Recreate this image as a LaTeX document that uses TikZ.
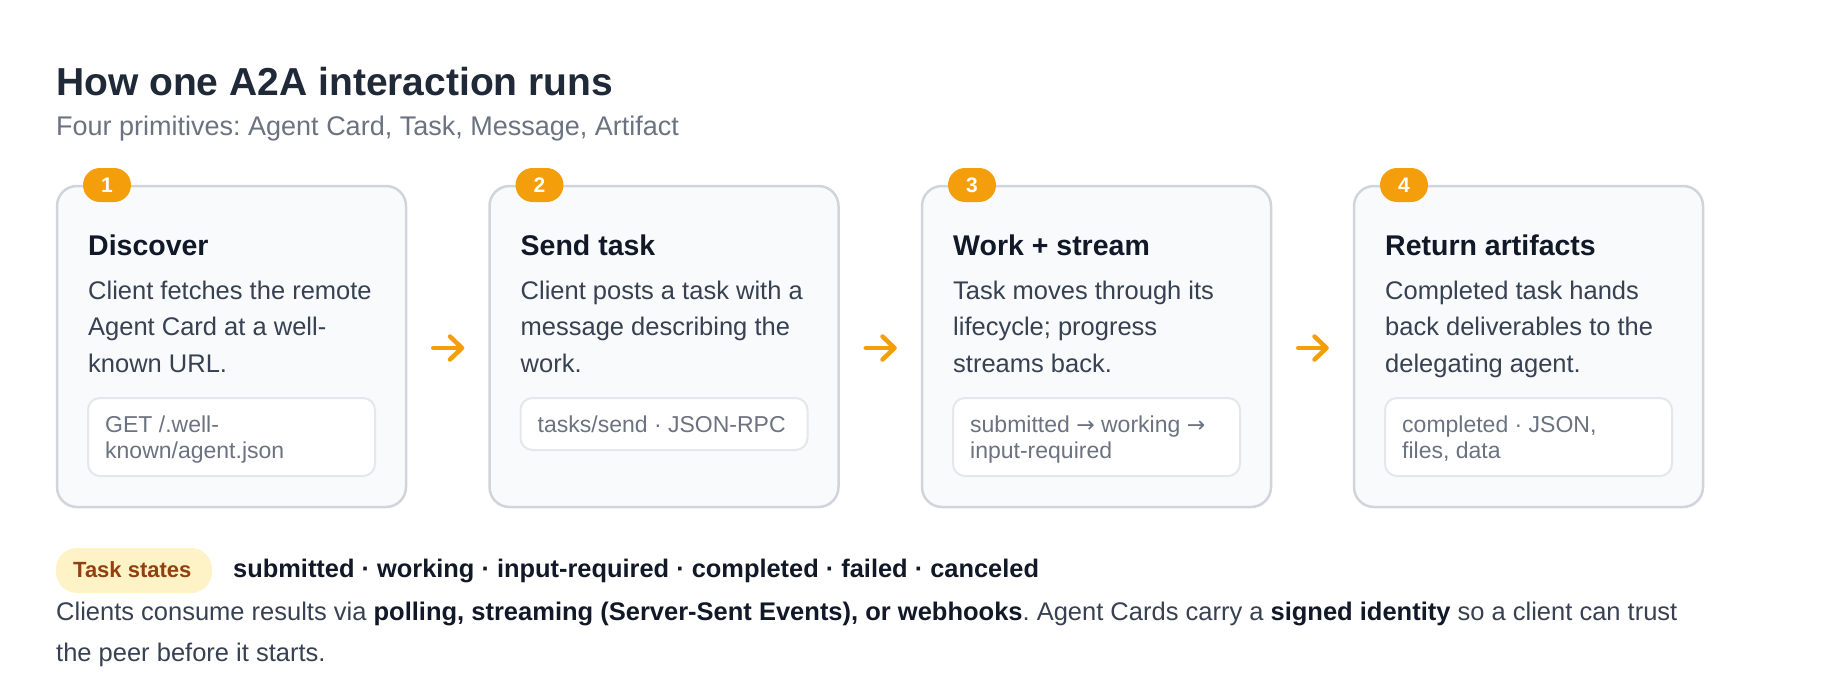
\documentclass[tikz,border=0pt]{standalone}
\usepackage{fontspec}
\setmainfont{Liberation Sans}
\newfontfamily\symf{DejaVu Sans}
\usetikzlibrary{arrows.meta}
\frenchspacing
\definecolor{titlec}{HTML}{1F2937}
\definecolor{subc}{HTML}{6B7280}
\definecolor{cardfill}{HTML}{F8FAFC}
\definecolor{cardline}{HTML}{D1D5DB}
\definecolor{accent}{HTML}{F59E0B}
\definecolor{headc}{HTML}{111827}
\definecolor{bodyc}{HTML}{374151}
\definecolor{codeline}{HTML}{E5E7EB}
\definecolor{codec}{HTML}{6B7280}
\definecolor{pillfill}{HTML}{FEF3C7}
\definecolor{pilltext}{HTML}{92400E}
\newcommand\acard[9]{%
  \node[card] (card#1) at (#2+174.5,346.5) {};
  \node[codebox, minimum height=#7pt] (code#1) at (#2+174.5,398+#7/2) {};
  \node[badge] (badge#1) at (#2+50,185) {#1};
  \node[ttl] (title#1) at (#2+31,255) {#3};
  \node[bodytxt] (bodya#1) at (#2+31,299) {#4};
  \node[bodytxt] (bodyb#1) at (#2+31,335.5) {#5};
  \node[bodytxt] (bodyc#1) at (#2+31,372) {#6};
  \node[codetxt] (codea#1) at (#2+48,432) {#8};
  \node[codetxt] (codeb#1) at (#2+48,458) {#9};
}
\newcommand\rarr{{\symf\fontsize{22}{22}\selectfont →}}
\begin{document}
\begin{tikzpicture}[x=1pt,y=-1pt,
  txt/.style={inner sep=0pt, anchor=base west},
  card/.style={draw=cardline, line width=2.5pt, fill=cardfill, rounded corners=20pt,
    minimum width=349pt, minimum height=321pt, inner sep=0pt},
  codebox/.style={draw=codeline, line width=2pt, fill=white, rounded corners=12pt,
    minimum width=287pt, inner sep=0pt},
  badge/.style={fill=accent, rounded corners=17pt, minimum width=48pt, minimum height=34pt,
    inner sep=0pt, text=white, font=\fontsize{21}{21}\selectfont\bfseries},
  ttl/.style={txt, text=headc, font=\fontsize{28.5}{28.5}\selectfont\bfseries},
  bodytxt/.style={txt, text=bodyc, font=\fontsize{25.5}{30}\selectfont},
  codetxt/.style={txt, text=codec, font=\fontsize{23}{26}\selectfont},
  flow/.style={draw=accent, line width=4.5pt, line cap=round,
    -{Straight Barb[length=12pt,width=23pt,round]}},
]
\useasboundingbox[fill=white] (0,0) rectangle (1840,680);

\node[txt, text=titlec, font=\fontsize{39}{39}\selectfont\bfseries] (title) at (56,95)
  {How one A2A interaction runs};
\node[txt, text=subc, font=\fontsize{27}{27}\selectfont] (subtitle) at (56,135)
  {Four primitives: Agent Card, Task, Message, Artifact};

\acard{1}{57}{Discover}{Client fetches the remote}{Agent Card at a well-}{known URL.}{78}{GET /.well-}{known/agent.json}
\acard{2}{489.5}{Send task}{Client posts a task with a}{message describing the}{work.}{52}{tasks/send · JSON-RPC}{}
\acard{3}{922}{Work + stream}{Task moves through its}{lifecycle; progress}{streams back.}{78}{submitted \rarr\ working \rarr}{input-required}
\acard{4}{1354}{Return artifacts}{Completed task hands}{back deliverables to the}{delegating agent.}{78}{completed · JSON,}{files, data}

\draw[flow] ([xshift=26pt,yshift=-1.5pt]card1.east) -- ([xshift=-24pt,yshift=-1.5pt]card2.west);
\draw[flow] ([xshift=26pt,yshift=-1.5pt]card2.east) -- ([xshift=-24pt,yshift=-1.5pt]card3.west);
\draw[flow] ([xshift=26pt,yshift=-1.5pt]card3.east) -- ([xshift=-24pt,yshift=-1.5pt]card4.west);

\node[fill=pillfill, rounded corners=21pt, minimum width=156pt, minimum height=45pt, inner sep=0pt]
  (pill) at (134,570.5) {};
\node[txt, text=pilltext, font=\fontsize{22}{22}\selectfont\bfseries] (pilltxt) at (73,577) {Task states};
\node[txt, text=headc, font=\fontsize{25.4}{25.4}\selectfont\bfseries] (states) at (233,577)
  {submitted · working · input-required · completed · failed · canceled};
\node[txt, text=bodyc, font=\fontsize{25.5}{25.5}\selectfont] (notea) at (56,620)
  {Clients consume results via \textcolor{headc}{\bfseries polling, streaming (Server-Sent Events), or webhooks}. Agent Cards carry a \textcolor{headc}{\bfseries signed identity} so a client can trust};
\node[txt, text=bodyc, font=\fontsize{25.5}{25.5}\selectfont] (noteb) at (56,661)
  {the peer before it starts.};
\end{tikzpicture}
\end{document}
